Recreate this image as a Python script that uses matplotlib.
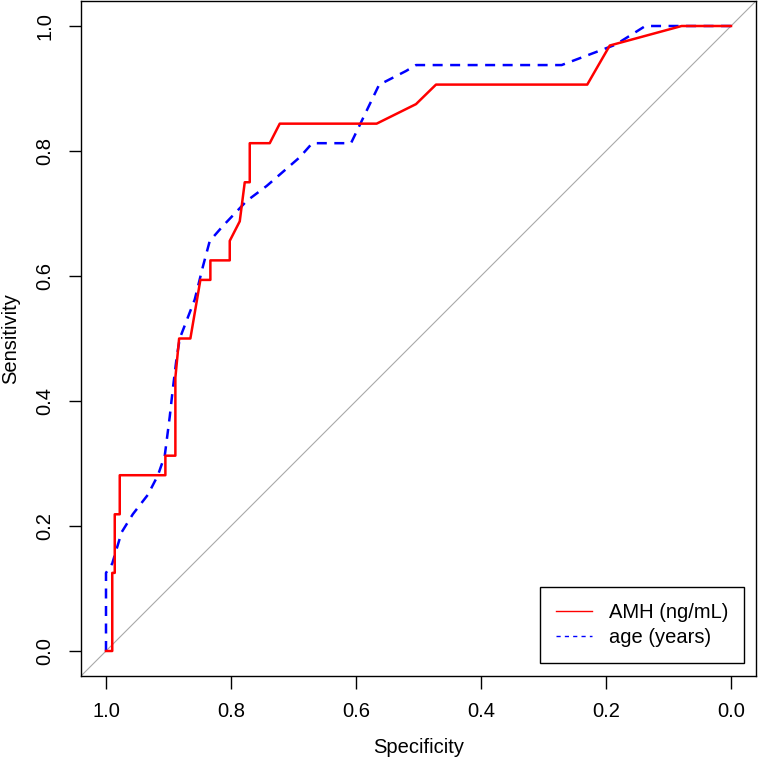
import matplotlib
matplotlib.use('Agg')
import matplotlib.pyplot as plt
from matplotlib.lines import Line2D

plt.rcParams['font.family'] = ['Liberation Sans', 'DejaVu Sans']

# ROC curve points (specificity, sensitivity)
amhSpec = [1.0, 0.99, 0.99, 0.986, 0.986, 0.978, 0.978, 0.905, 0.905, 0.889, 0.889,
           0.883, 0.865, 0.849, 0.833, 0.833, 0.802, 0.802, 0.786, 0.778, 0.770,
           0.770, 0.738, 0.722, 0.567, 0.504, 0.472, 0.230, 0.194, 0.079, 0.0]
amhSens = [0.0, 0.0, 0.125, 0.125, 0.21875, 0.21875, 0.28125, 0.28125, 0.3125, 0.3125, 0.4375,
           0.5, 0.5, 0.59375, 0.59375, 0.625, 0.625, 0.65625, 0.6875, 0.75, 0.75,
           0.8125, 0.8125, 0.84375, 0.84375, 0.875, 0.90625, 0.90625, 0.96875, 1.0, 1.0]

ageSpec = [1.0, 1.0, 0.99, 0.975, 0.957, 0.933, 0.917, 0.906, 0.898, 0.893, 0.887,
           0.882, 0.858, 0.845, 0.834, 0.813, 0.775, 0.743, 0.69, 0.67, 0.608,
           0.563, 0.52, 0.504, 0.271, 0.185, 0.137, 0.0]
ageSens = [0.0, 0.125, 0.14, 0.19, 0.219, 0.25, 0.281, 0.3125, 0.375, 0.42, 0.469,
           0.5, 0.5625, 0.615, 0.656, 0.68, 0.72, 0.744, 0.79, 0.8125, 0.8125,
           0.906, 0.928, 0.9375, 0.9375, 0.97, 1.0, 1.0]

ticks = [1.0, 0.8, 0.6, 0.4, 0.2, 0.0]
tickLabels = ['1.0', '0.8', '0.6', '0.4', '0.2', '0.0']

fig = plt.figure(figsize=(7.6, 7.6), dpi=100)
ax = fig.add_axes([81/760, 84/760, 675/760, 675/760])

# reference diagonal
ax.plot([1.04, -0.04], [-0.04, 1.04], color='darkgrey', lw=0.8, zorder=1)

ax.plot(amhSpec, amhSens, color='red', lw=1.8, zorder=3)
ax.plot(ageSpec, ageSens, color='blue', lw=1.8, ls=(0, (4, 3)), zorder=2)

ax.set_xlim(1.04, -0.04)
ax.set_ylim(-0.04, 1.04)
ax.set_xticks(ticks)
ax.set_xticklabels(tickLabels)
ax.set_yticks(ticks)
ax.set_yticklabels(tickLabels, rotation=90, va='center')
ax.tick_params(length=9, width=1, labelsize=14.5, pad=10)
for s in ax.spines.values():
    s.set_linewidth(1)

ax.set_xlabel('Specificity', fontsize=14.5, labelpad=12)
ax.set_ylabel('Sensitivity', fontsize=14.5, labelpad=11)

handles = [Line2D([0], [0], color='red', lw=1),
           Line2D([0], [0], color='blue', lw=1, ls=(0, (3, 3)))]
leg = ax.legend(handles, ['AMH (ng/mL)', 'age (years)'], loc='lower right',
                bbox_to_anchor=(1 - 12/675, 13/675), borderaxespad=0,
                fontsize=14.5, fancybox=False, framealpha=1, edgecolor='black',
                handlelength=1.8, handletextpad=0.8, borderpad=0.8, labelspacing=0.3)
leg.get_frame().set_linewidth(1)

plt.savefig('out.png', dpi=100)
